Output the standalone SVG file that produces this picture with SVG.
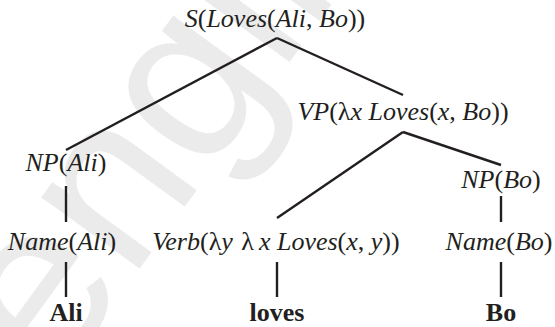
<svg xmlns="http://www.w3.org/2000/svg" width="555" height="327" viewBox="0 0 555 327">
<style>
.t{font-size:26px;fill:#231f20;text-anchor:middle}
.i{font-style:italic}
.b{font-weight:bold}
.e line{stroke:#231f20;stroke-width:2.4}
.wm{font-family:'Liberation Sans',Arial,sans-serif;font-size:230px;fill:#ebebeb}
</style>
<rect width="555" height="327" fill="#fff"/>
<g id="watermark"><text class="wm" transform="translate(55,385) rotate(-54)">engli</text></g>
<g id="edges" class="e">
<line x1="277" y1="38" x2="66" y2="150"/>
<line x1="277" y1="38" x2="403" y2="95"/>
<line x1="403" y1="132" x2="277" y2="218"/>
<line x1="403" y1="132" x2="501" y2="165"/>
<line x1="66" y1="186" x2="66" y2="222"/>
<line x1="501" y1="196" x2="501" y2="222"/>
<line x1="66" y1="262" x2="66" y2="297"/>
<line x1="277" y1="262" x2="277" y2="297"/>
<line x1="501" y1="262" x2="501" y2="297"/>
</g>
<g id="nodes" font-family="Liberation Serif, Tinos, Times New Roman, Times, serif">
<g id="n-s"><text class="t" x="275" y="27"><tspan class="i">S</tspan>(<tspan class="i">Loves</tspan>(<tspan class="i">Ali</tspan>, <tspan class="i">Bo</tspan>))</text></g>
<g id="n-vp"><text class="t" x="403" y="120"><tspan class="i">VP</tspan>(λ<tspan class="i">x Loves</tspan>(<tspan class="i">x</tspan>, <tspan class="i">Bo</tspan>))</text></g>
<g id="n-np-ali"><text class="t" x="66" y="171"><tspan class="i">NP</tspan>(<tspan class="i">Ali</tspan>)</text></g>
<g id="n-np-bo"><text class="t" x="501" y="188"><tspan class="i">NP</tspan>(<tspan class="i">Bo</tspan>)</text></g>
<g id="n-name-ali"><text class="t" x="62" y="250"><tspan class="i">Name</tspan>(<tspan class="i">Ali</tspan>)</text></g>
<g id="n-verb"><text class="t" x="276" y="250"><tspan class="i">Verb</tspan>(λ<tspan class="i">y</tspan> <tspan dx="2">λ</tspan><tspan class="i" dx="5">x Loves</tspan>(<tspan class="i">x</tspan>, <tspan class="i">y</tspan>))</text></g>
<g id="n-name-bo"><text class="t" x="499" y="250"><tspan class="i">Name</tspan>(<tspan class="i">Bo</tspan>)</text></g>
<g id="w-ali"><text class="t b" x="66" y="321">Ali</text></g>
<g id="w-loves"><text class="t b" x="277" y="321">loves</text></g>
<g id="w-bo"><text class="t b" x="501" y="321">Bo</text></g>
</g>
</svg>
